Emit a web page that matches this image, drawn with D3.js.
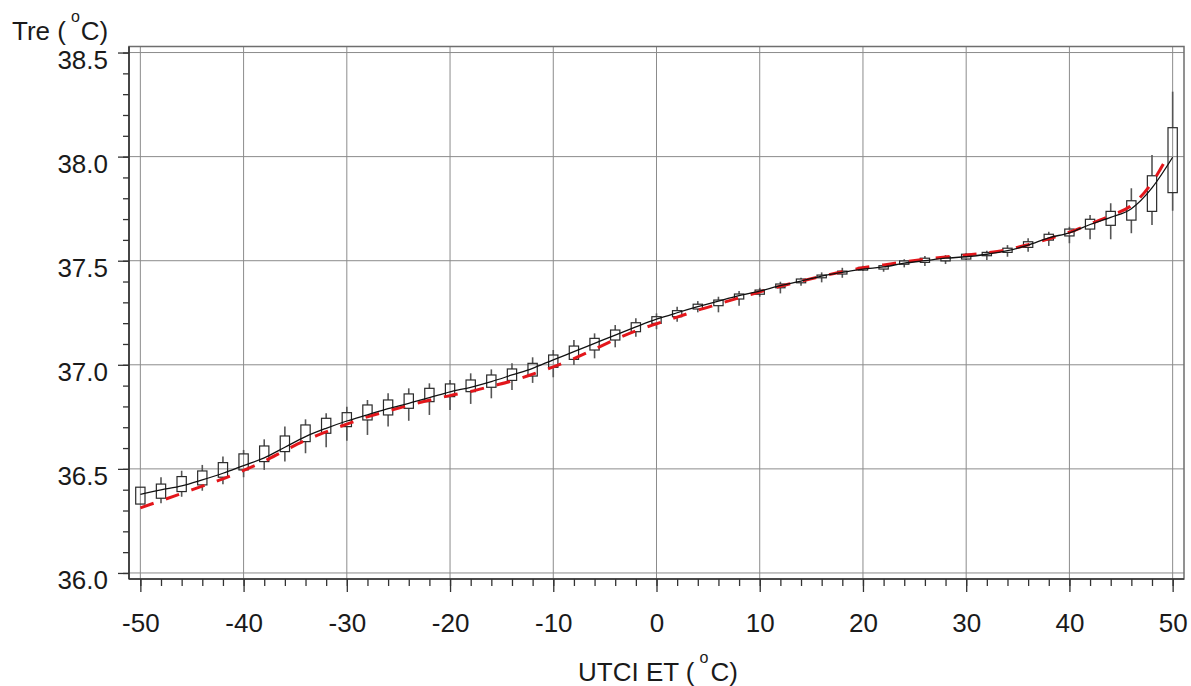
<!DOCTYPE html>
<html>
<head>
<meta charset="utf-8">
<script src="https://cdn.jsdelivr.net/npm/d3@7"></script>
<style>
  body { margin: 0; background: #fff; }
  text { font-family: 'Liberation Sans', Arial, sans-serif; fill: #1a1a1a; }
</style>
</head>
<body>
<script>
// box positions (UTCI ET, °C)
const boxX = [-50,-48,-46,-44,-42,-40,-38,-36,-34,-32,-30,-28,-26,-24,-22,-20,-18,-16,-14,-12,-10,-8,-6,-4,-2,
  0,2,4,6,8,10,12,14,16,18,20,22,24,26,28,30,32,34,36,38,40,42,44,46,48,50]
const boxQ1 = [36.331,36.359,36.391,36.423,36.460,36.495,36.535,36.583,36.631,36.671,36.703,36.735,36.759,36.791,36.823,36.847,36.871,36.892,36.925,36.946,36.988,37.026,37.071,37.119,37.159,
  37.199,37.231,37.268,37.284,37.316,37.339,37.370,37.394,37.418,37.436,37.455,37.460,37.483,37.492,37.499,37.508,37.524,37.540,37.564,37.599,37.619,37.652,37.670,37.695,37.737,37.827]
const boxQ3 = [36.412,36.427,36.463,36.490,36.530,36.572,36.610,36.658,36.711,36.743,36.770,36.807,36.831,36.860,36.887,36.908,36.927,36.951,36.980,37.007,37.047,37.090,37.127,37.167,37.202,
  37.231,37.260,37.291,37.311,37.340,37.359,37.388,37.412,37.431,37.450,37.468,37.476,37.499,37.512,37.519,37.531,37.540,37.560,37.591,37.627,37.652,37.699,37.737,37.788,37.908,38.139]
const boxLo = [36.331,36.335,36.366,36.395,36.426,36.460,36.495,36.535,36.575,36.604,36.635,36.663,36.703,36.731,36.759,36.783,36.812,36.839,36.879,36.913,36.940,36.999,37.031,37.084,37.135,
  37.171,37.207,37.252,37.252,37.284,37.327,37.343,37.380,37.396,37.418,37.451,37.447,37.468,37.475,37.484,37.503,37.503,37.519,37.543,37.571,37.584,37.603,37.603,37.632,37.671,37.740]
const boxHi = [36.412,36.460,36.491,36.519,36.559,36.591,36.642,36.703,36.738,36.767,36.799,36.831,36.863,36.887,36.911,36.927,36.959,36.978,37.007,37.036,37.071,37.119,37.151,37.191,37.223,
  37.247,37.279,37.306,37.327,37.354,37.370,37.399,37.418,37.444,37.466,37.476,37.484,37.507,37.523,37.527,37.536,37.548,37.575,37.608,37.639,37.663,37.720,37.776,37.848,38.008,38.312]

// fitted curves
const fitBlack = [36.378,36.399,36.418,36.447,36.479,36.516,36.553,36.604,36.655,36.695,36.730,36.760,36.790,36.815,36.842,36.870,36.892,36.919,36.951,36.983,37.024,37.063,37.103,37.143,37.182,
  37.219,37.250,37.279,37.306,37.332,37.354,37.380,37.402,37.426,37.444,37.460,37.470,37.488,37.500,37.512,37.519,37.531,37.548,37.575,37.610,37.634,37.674,37.708,37.750,37.850,37.997]
const redX = [-50,-48,-46,-44,-42,-40,-38,-36,-34,-32,-30,-28,-26,-24,-22,-20,-18,-16,-14,-12,-10,-8,-6,-4,-2,
  0,2,4,6,8,10,12,14,16,18,20,22,24,26,28,30,32,34,36,38,40,42,44,46,48,49.5]
const fitRed = [36.313,36.347,36.382,36.417,36.452,36.493,36.537,36.588,36.637,36.678,36.715,36.750,36.778,36.805,36.830,36.852,36.872,36.897,36.922,36.955,36.990,37.030,37.075,37.122,37.163,
  37.197,37.229,37.262,37.292,37.322,37.350,37.377,37.402,37.425,37.447,37.466,37.480,37.494,37.507,37.518,37.527,37.538,37.553,37.577,37.605,37.637,37.676,37.717,37.765,37.875,38.000]

const xMajor = [-50,-40,-30,-20,-10,0,10,20,30,40,50]
const xMinor = [-50,-48,-46,-44,-42,-40,-38,-36,-34,-32,-30,-28,-26,-24,-22,-20,-18,-16,-14,-12,-10,-8,-6,-4,-2,
  0,2,4,6,8,10,12,14,16,18,20,22,24,26,28,30,32,34,36,38,40,42,44,46,48,50]
const yMajor = [36.0,36.5,37.0,37.5,38.0,38.5]
const yMinor = [36.0,36.1,36.2,36.3,36.4,36.5,36.6,36.7,36.8,36.9,37.0,37.1,37.2,37.3,37.4,37.5,37.6,37.7,37.8,37.9,38.0,38.1,38.2,38.3,38.4,38.5]

let width = 1191, height = 686
let plotLeft = 129, plotRight = 1184, plotTop = 46.5, plotBottom = 579

let svg = d3.select('body').append('svg')
  .attr('width', width)
  .attr('height', height)

let x = d3.scaleLinear().domain([-51.1, 51.1]).range([plotLeft, plotRight])
let y = d3.scaleLinear().domain([35.971, 38.529]).range([plotBottom, plotTop])

// grid
let grid = svg.append('g').attr('stroke', '#8c8c8c').attr('stroke-width', 1)
grid.selectAll('.gx').data(xMajor).join('line')
  .attr('x1', d => x(d)).attr('x2', d => x(d))
  .attr('y1', plotTop).attr('y2', plotBottom)
grid.selectAll('.gy').data(yMajor).join('line')
  .attr('x1', plotLeft).attr('x2', plotRight)
  .attr('y1', d => y(d)).attr('y2', d => y(d))

// frame
svg.append('rect')
  .attr('x', plotLeft).attr('y', plotTop)
  .attr('width', plotRight - plotLeft).attr('height', plotBottom - plotTop)
  .attr('fill', 'none').attr('stroke', '#6e6e6e').attr('stroke-width', 1.5)

// axes
let yMinorAxis = svg.append('g').attr('transform', `translate(${plotLeft},0)`)
  .call(d3.axisLeft(y).tickValues(yMinor).tickSize(6).tickFormat(''))
let yAxis = svg.append('g').attr('transform', `translate(${plotLeft},0)`)
  .call(d3.axisLeft(y).tickValues(yMajor).tickSize(11).tickPadding(10).tickFormat(d => d.toFixed(1)))
let xMinorAxis = svg.append('g').attr('transform', `translate(0,${plotBottom})`)
  .call(d3.axisBottom(x).tickValues(xMinor).tickSize(7).tickFormat(''))
let xAxis = svg.append('g').attr('transform', `translate(0,${plotBottom})`)
  .call(d3.axisBottom(x).tickValues(xMajor).tickSize(13).tickPadding(22).tickFormat(d => String(d)))

svg.selectAll('.domain').remove()
svg.selectAll('.tick line').attr('stroke', '#333').attr('stroke-width', 1.3)
svg.selectAll('.tick text').attr('font-size', 26).attr('font-family', "'Liberation Sans', Arial, sans-serif").attr('fill', '#1a1a1a')
yAxis.selectAll('.tick text').attr('dy', '0.6em')

svg.append('line')
  .attr('x1', plotLeft).attr('x2', plotLeft).attr('y1', plotTop).attr('y2', plotBottom)
  .attr('stroke', '#333').attr('stroke-width', 1.6)
svg.append('line')
  .attr('x1', plotLeft).attr('x2', plotRight).attr('y1', plotBottom).attr('y2', plotBottom)
  .attr('stroke', '#333').attr('stroke-width', 1.6)

// boxes
let boxes = boxX.map((d, i) => ({x: d, q1: boxQ1[i], q3: boxQ3[i], lo: boxLo[i], hi: boxHi[i]}))
let bw = x(0.45) - x(-0.45)
let boxG = svg.append('g').attr('stroke', '#2a2a2a')
boxG.selectAll('.whiskerHi').data(boxes).join('line')
  .attr('x1', d => x(d.x)).attr('x2', d => x(d.x))
  .attr('y1', d => y(d.q3)).attr('y2', d => y(d.hi))
  .attr('stroke', '#555').attr('stroke-width', 1.6)
boxG.selectAll('.whiskerLo').data(boxes).join('line')
  .attr('x1', d => x(d.x)).attr('x2', d => x(d.x))
  .attr('y1', d => y(d.q1)).attr('y2', d => y(d.lo))
  .attr('stroke', '#555').attr('stroke-width', 1.6)
boxG.selectAll('rect').data(boxes).join('rect')
  .attr('x', d => x(d.x) - bw / 2).attr('width', bw)
  .attr('y', d => y(d.q3)).attr('height', d => y(d.q1) - y(d.q3))
  .attr('fill', 'none').attr('stroke-width', 1.2)

// curves
let redLine = d3.line().x((d, i) => x(redX[i])).y(d => y(d)).curve(d3.curveMonotoneX)
svg.append('path').attr('d', redLine(fitRed))
  .attr('fill', 'none').attr('stroke', '#e3161b').attr('stroke-width', 3)
  .attr('stroke-dasharray', '14,13')
let blackLine = d3.line().x((d, i) => x(boxX[i])).y(d => y(d)).curve(d3.curveMonotoneX)
svg.append('path').attr('d', blackLine(fitBlack))
  .attr('fill', 'none').attr('stroke', '#111').attr('stroke-width', 1.3)

// titles
let yTitle = svg.append('text').attr('x', 12).attr('y', 40).attr('font-size', 26)
yTitle.append('tspan').text('Tre (')
yTitle.append('tspan').attr('dx', 5).attr('dy', -18).attr('font-size', 16).text('o')
yTitle.append('tspan').attr('dx', 1).attr('dy', 18).text('C)')

let xTitle = svg.append('text').attr('x', 578).attr('y', 681).attr('font-size', 26)
xTitle.append('tspan').text('UTCI ET (')
xTitle.append('tspan').attr('dx', 5).attr('dy', -18).attr('font-size', 16).text('o')
xTitle.append('tspan').attr('dx', 2).attr('dy', 18).text('C)')
</script>
</body>
</html>
